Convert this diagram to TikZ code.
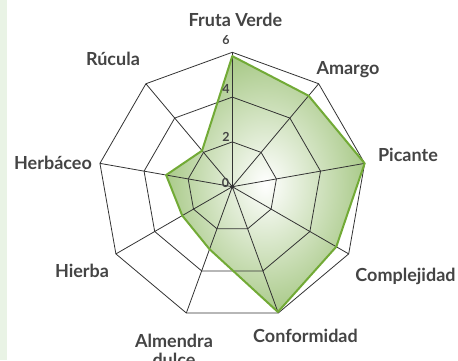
\documentclass[tikz,border=0pt]{standalone}
\usepackage{fontspec}
\setmainfont{Lato}
\usepackage{tikz}
\usetikzlibrary{positioning}
\definecolor{leafgreen}{RGB}{114, 170, 54}
\definecolor{palegreen}{RGB}{233, 243, 229}
\definecolor{shadegreen}{RGB}{170, 202, 138}
\definecolor{inkgray}{RGB}{68, 68, 68}

\tikzset{
    gridline/.style={color=black!80, line width=0.8pt},
    axislabel/.style={font=\bfseries\fontsize{18}{20}\selectfont, text=inkgray, inner sep=0pt},
    ticklabel/.style={font=\bfseries\fontsize{12.5}{14}\selectfont, text=inkgray, inner sep=0pt},
}

\begin{document}
\begin{tikzpicture}[x=1pt, y=1pt]
    \useasboundingbox (0, 0) rectangle (458, 360);
    % Side band
    \fill[palegreen] (0, 0) rectangle (7, 360);
    \begin{scope}[shift={(232.3, 173.3)}]
        \coordinate (centre) at (0, 0);
        % Data points (22.4pt per unit)
        \foreach \v [count=\i from 0] in {5.83, 5.3, 6, 5.36, 5.95, 2.97, 2.58, 3.0, 2.1}
            \coordinate (d\i) at ({90-40*\i}:{22.4*\v});
        % Shaded area
        \shade[inner color=white, outer color=shadegreen]
            (d0) -- (d1) -- (d2) -- (d3) -- (d4) -- (d5) -- (d6) -- (d7) -- (d8) -- cycle;
        % Rings & spokes
        \foreach \r in {44.8, 89.6, 134.4}
            \draw[gridline, line join=round] (90:\r) \foreach \k in {1,...,8} {-- ({90-40*\k}:\r)} -- cycle;
        \foreach \k in {0,...,8}
            \draw[gridline] (centre) -- ({90-40*\k}:134.4);
        \fill[color=black!80] (centre) circle (2);
        % Data outline
        \draw[color=leafgreen, line width=2pt, line join=round]
            (d0) -- (d1) -- (d2) -- (d3) -- (d4) -- (d5) -- (d6) -- (d7) -- (d8) -- cycle;
    \end{scope}
    % Scale
    \node[ticklabel] (t6) at (226, 319.5) {6};
    \node[ticklabel] (t4) at (226, 271)   {4};
    \node[ticklabel] (t2) at (226, 223)   {2};
    \node[ticklabel] (t0) at (225.5, 177) {0};
    % Axis names
    \node[axislabel, anchor=base] (fruta)       at (235.5, 334) {Fruta Verde};
    \node[axislabel, anchor=base] (amargo)      at (348, 286)   {Amargo};
    \node[axislabel, anchor=base] (picante)     at (408, 199)   {Picante};
    \node[axislabel, anchor=base] (complejidad) at (405.5, 79)  {Complejidad};
    \node[axislabel, anchor=base] (conformidad) at (305.5, 17.3) {Conformidad};
    \node[axislabel, anchor=base] (almendra)    at (174, 12.3)  {Almendra};
    \node[axislabel, below=19pt of almendra.base, anchor=base] (dulce) {dulce};
    \node[axislabel, anchor=base] (hierba)      at (82, 82.3)   {Hierba};
    \node[axislabel, anchor=base] (herbaceo)    at (53, 191)    {Herbáceo};
    \node[axislabel, anchor=base] (rucula)      at (113, 295)   {Rúcula};
\end{tikzpicture}
\end{document}
